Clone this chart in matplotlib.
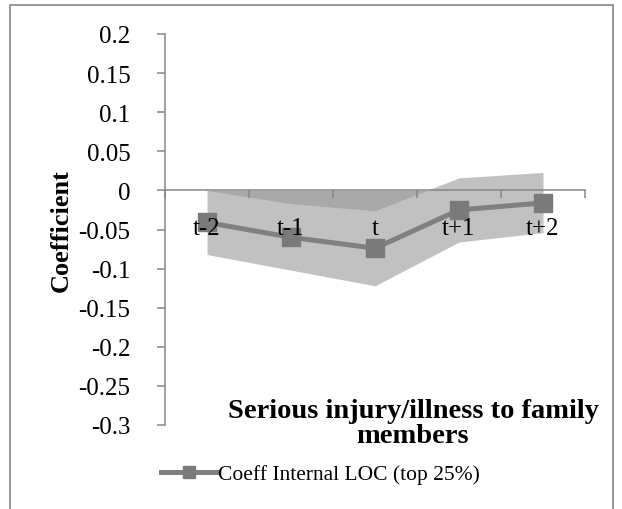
import matplotlib
matplotlib.use("Agg")
import matplotlib.pyplot as plt
import numpy as np

# Event-time coefficients with their confidence bounds
periods = ["t-2", "t-1", "t", "t+1", "t+2"]
coeff = [-0.041, -0.060, -0.074, -0.025, -0.016]
lower = [-0.082, -0.102, -0.122, -0.066, -0.054]
upper = [0.000, -0.017, -0.026, 0.016, 0.023]
yticks = [0.2, 0.15, 0.1, 0.05, 0, -0.05, -0.1, -0.15, -0.2, -0.25, -0.3]

plt.rcParams['font.family'] = ['Liberation Serif', 'DejaVu Serif']
axis_grey = '#868686'

fig = plt.figure(figsize=(6.22, 5.10), dpi=100)
ax = fig.add_axes([165 / 622, 1 - 426 / 510, 420 / 622, 391 / 510])

x = np.arange(len(periods))

# two semi-transparent areas from zero, overlap shows darker
ax.fill_between(x, 0, lower, color='#999999', alpha=0.6, lw=0, zorder=1)
ax.fill_between(x, 0, upper, color='#999999', alpha=0.6, lw=0, zorder=1)

ax.plot(x, coeff, color='#808080', lw=3.6, marker='s', ms=12.5,
        mfc='#7a7a7a', mec='#7a7a7a', zorder=2,
        label='Coeff Internal LOC (top 25%)')

ax.set_xlim(-0.5, len(periods) - 0.5)
ax.set_ylim(-0.3, 0.2)

for s in ['top', 'right']:
    ax.spines[s].set_visible(False)
ax.spines['bottom'].set_position(('data', 0))
for s in ['left', 'bottom']:
    ax.spines[s].set_color(axis_grey)
    ax.spines[s].set_linewidth(1.1)

ax.set_yticks(yticks)
ax.set_yticklabels([f"{v:g}" for v in yticks])
ax.tick_params(axis='y', direction='out', length=6, width=1.1,
               color=axis_grey, pad=19, labelsize=18)

ax.set_xticks(x)
ax.set_xticklabels(periods)
ax.set_xticks(np.arange(-0.5, len(periods)), minor=True)
ax.tick_params(axis='x', which='major', length=0, pad=19, labelsize=18)
ax.tick_params(axis='x', which='minor', direction='out', length=6,
               width=1.1, color=axis_grey)
ax.xaxis.set_zorder(3)

ax.set_ylabel('Coefficient', fontsize=19, fontweight='bold', labelpad=4)

fig.text(413 / 622, 1 - 424 / 510, 'Serious injury/illness to family\nmembers',
         ha='center', va='center', fontsize=20.5, fontweight='bold',
         linespacing=1.02)

ax.legend(loc='center left', bbox_to_anchor=(152 / 622, 1 - 475 / 510),
          bbox_transform=fig.transFigure, frameon=False, fontsize=15.5,
          handlelength=2.6, handletextpad=0.05, borderaxespad=0,
          markerscale=0.65)

# chart outline
fig.patches.append(plt.Rectangle((10 / 622, -0.05), 603 / 622, 1.05 - 6 / 510,
                                 transform=fig.transFigure, fill=False,
                                 ec=axis_grey, lw=1.2))

fig.savefig('out.png', dpi=100)
